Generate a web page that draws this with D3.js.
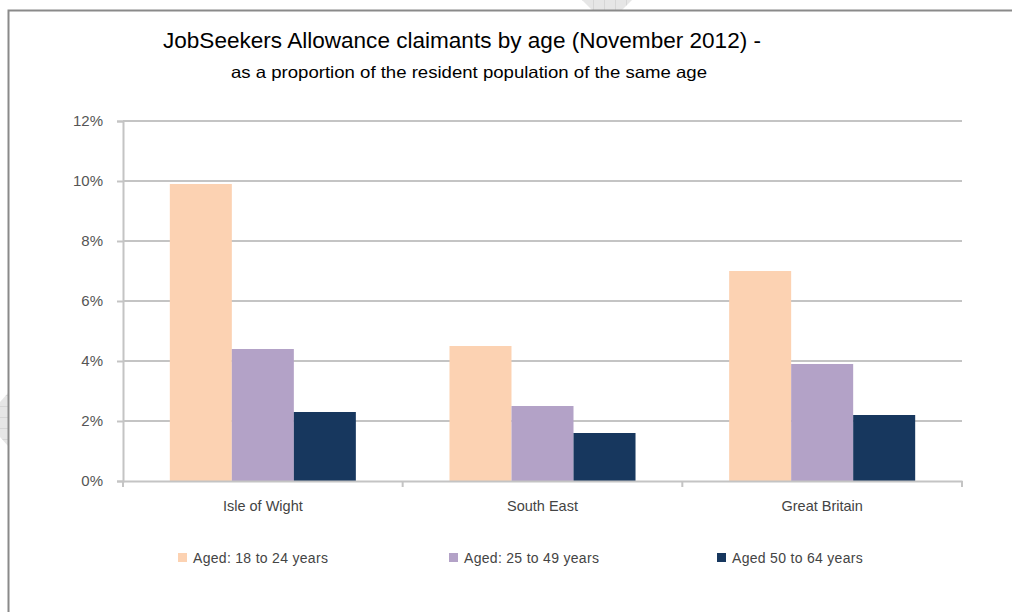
<!DOCTYPE html>
<html>
<head>
<meta charset="utf-8">
<script src="https://cdn.jsdelivr.net/npm/d3@7"></script>
<style>
  html, body { margin: 0; padding: 0; background: #ffffff; }
  svg { display: block; font-family: "Liberation Sans", Arial, sans-serif; }
</style>
</head>
<body>
<svg id="chart" width="1012" height="612"></svg>
<script>
// Regions along the x axis
const regions = ["Isle of Wight", "South East", "Great Britain"];
// Age groups (legend order)
const ageGroups = ["Aged: 18 to 24 years", "Aged: 25 to 49 years", "Aged 50 to 64 years"];
// Claimants as % of resident population of the same age, per region
const aged18to24 = [9.9, 4.5, 7.0];
const aged25to49 = [4.4, 2.5, 3.9];
const aged50to64 = [2.3, 1.6, 2.2];
// Y axis tick values (percent)
const yTicks = [0, 2, 4, 6, 8, 10, 12];

const seriesValues = [aged18to24, aged25to49, aged50to64];
const colors = ["#FCD2B2", "#B3A2C7", "#17375E"];

const svg = d3.select("#chart");

// Page decorations: folded-corner tabs and frame
const hatch = svg.append("defs").append("pattern")
  .attr("id", "hatch").attr("width", 11).attr("height", 11)
  .attr("patternUnits", "userSpaceOnUse");
hatch.append("rect").attr("width", 11).attr("height", 11).attr("fill", "#e6e6e6");
hatch.append("path").attr("d", "M10.5,0V11M0,10.5H11").attr("stroke", "#d6d6d6").attr("stroke-width", 1);

svg.append("path").attr("d", "M582,0 L632,0 L622,10 L592,10 Z").attr("fill", "url(#hatch)");
svg.append("path").attr("d", "M0,402 L8,393 L8,446 L0,437 Z").attr("fill", "url(#hatch)");

svg.append("rect")
  .attr("x", 8.5).attr("y", 10.5).attr("width", 1100).attr("height", 700)
  .attr("fill", "none").attr("stroke", "#8a8a8a").attr("stroke-width", 2);

// Titles
svg.append("text")
  .attr("x", 462).attr("y", 48).attr("text-anchor", "middle")
  .attr("font-size", 21.5).attr("fill", "#000")
  .attr("textLength", 598).attr("lengthAdjust", "spacingAndGlyphs")
  .text("JobSeekers Allowance claimants by age (November 2012) -");
svg.append("text")
  .attr("x", 469).attr("y", 78).attr("text-anchor", "middle")
  .attr("font-size", 16.5).attr("fill", "#000")
  .attr("textLength", 476).attr("lengthAdjust", "spacingAndGlyphs")
  .text("as a proportion of the resident population of the same age");

// Plot area
const plot = { left: 123, right: 962, top: 121, bottom: 481 };

const x0 = d3.scaleBand().domain(regions).range([plot.left, plot.right]).paddingInner(0).paddingOuter(0);
const x1 = d3.scaleBand().domain(d3.range(ageGroups.length))
  .range([0, x0.bandwidth()]).paddingInner(0).paddingOuter(0.755);
const y = d3.scaleLinear().domain([0, 12]).range([plot.bottom, plot.top]);

// Gridlines
svg.append("g").selectAll("line").data(yTicks.filter(d => d > 0)).join("line")
  .attr("x1", plot.left).attr("x2", plot.right)
  .attr("y1", d => y(d)).attr("y2", d => y(d))
  .attr("stroke", "#c4c4c4").attr("stroke-width", 2);

// Y axis
const yAxis = svg.append("g").attr("transform", `translate(${plot.left},0)`)
  .call(d3.axisLeft(y).tickValues(yTicks).tickFormat(d => d + "%").tickSize(6).tickPadding(14));
yAxis.select(".domain").attr("stroke", "#c4c4c4").attr("stroke-width", 2);
yAxis.selectAll(".tick line").attr("stroke", "#c4c4c4").attr("stroke-width", 2);
yAxis.selectAll(".tick text").attr("font-size", 15).attr("fill", "#555")
  .attr("font-family", "Liberation Sans, Arial, sans-serif");

// Bars
const groups = svg.append("g").selectAll("g").data(regions).join("g")
  .attr("transform", d => `translate(${x0(d)},0)`);
groups.selectAll("rect")
  .data((r, i) => seriesValues.map((s, k) => ({ k, v: s[i] })))
  .join("rect")
  .attr("x", d => x1(d.k))
  .attr("width", x1.bandwidth())
  .attr("y", d => y(d.v))
  .attr("height", d => y(0) - y(d.v))
  .attr("fill", d => colors[d.k]);

// X axis with category separators
const xAxis = svg.append("g").attr("transform", `translate(0,${plot.bottom})`)
  .call(d3.axisBottom(x0).tickSize(0).tickPadding(20));
xAxis.select(".domain").attr("stroke", "#c4c4c4").attr("stroke-width", 2);
xAxis.selectAll(".tick text").attr("font-size", 14.5).attr("fill", "#444")
  .attr("font-family", "Liberation Sans, Arial, sans-serif");
const edges = regions.map(r => x0(r)).concat([plot.right]);
xAxis.selectAll(".sep").data(edges).join("line").attr("class", "sep")
  .attr("x1", d => d).attr("x2", d => d).attr("y1", 0).attr("y2", 6)
  .attr("stroke", "#c4c4c4").attr("stroke-width", 2);

// Legend
const legendX = [178, 449, 717];
const legend = svg.append("g").selectAll("g").data(ageGroups).join("g")
  .attr("transform", (d, i) => `translate(${legendX[i]},553)`);
legend.append("rect").attr("width", 9).attr("height", 9).attr("fill", (d, i) => colors[i]);
legend.append("text").attr("x", 15).attr("y", 10).attr("font-size", 14).attr("fill", "#444")
  .attr("letter-spacing", 0.3)
  .text(d => d);
</script>
</body>
</html>
